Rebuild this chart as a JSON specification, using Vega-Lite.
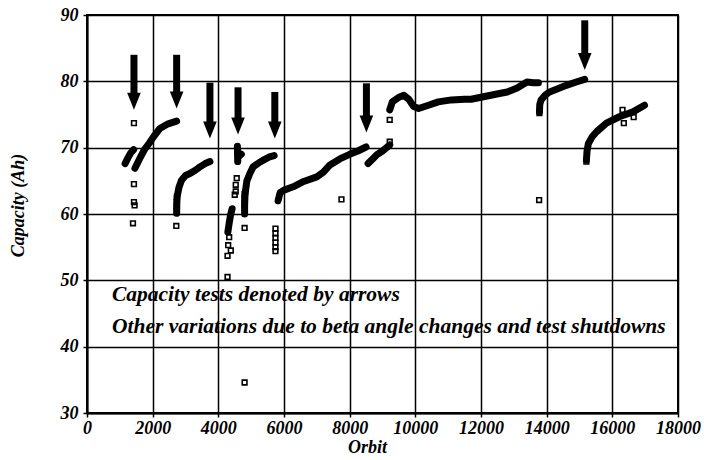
{
  "$schema": "https://vega.github.io/schema/vega-lite/v6.json",
  "width": 591,
  "height": 398,
  "autosize": "none",
  "padding": {"left": 87, "top": 15, "right": 26, "bottom": 47},
  "background": "white",
  "config": {
    "view": {"stroke": "black", "strokeWidth": 2},
    "axis": {
      "labelFont": "Liberation Serif", "labelFontStyle": "italic", "labelFontWeight": "bold", "labelFontSize": 18, "labelColor": "black", "labelOverlap": false, "labelBound": false, "labelFlush": false,
      "titleFont": "Liberation Serif", "titleFontStyle": "italic", "titleFontWeight": "bold", "titleFontSize": 18, "titleColor": "black",
      "gridColor": "black", "gridWidth": 1.5, "gridOpacity": 1,
      "domainColor": "black", "domainWidth": 2, "tickColor": "black", "tickSize": 4, "tickWidth": 1.5
    }
  },
  "datasets": {
    "curves": [
      {"seg": "A", "orbit": 1160, "cap": 67.6}, {"seg": "A", "orbit": 1250, "cap": 68.5}, {"seg": "A", "orbit": 1330, "cap": 69.2}, {"seg": "A", "orbit": 1420, "cap": 69.7},
      {"seg": "B", "orbit": 1460, "cap": 66.9}, {"seg": "B", "orbit": 1600, "cap": 68.3}, {"seg": "B", "orbit": 1750, "cap": 69.7}, {"seg": "B", "orbit": 1900, "cap": 70.7}, {"seg": "B", "orbit": 2020, "cap": 71.6}, {"seg": "B", "orbit": 2220, "cap": 72.9}, {"seg": "B", "orbit": 2470, "cap": 73.6}, {"seg": "B", "orbit": 2730, "cap": 74.0},
      {"seg": "C", "orbit": 2730, "cap": 60.1}, {"seg": "C", "orbit": 2735, "cap": 61.5}, {"seg": "C", "orbit": 2745, "cap": 62.6}, {"seg": "C", "orbit": 2800, "cap": 64.0}, {"seg": "C", "orbit": 2880, "cap": 65.1}, {"seg": "C", "orbit": 3000, "cap": 65.8}, {"seg": "C", "orbit": 3135, "cap": 66.1}, {"seg": "C", "orbit": 3300, "cap": 66.6}, {"seg": "C", "orbit": 3440, "cap": 67.1}, {"seg": "C", "orbit": 3600, "cap": 67.6}, {"seg": "C", "orbit": 3744, "cap": 67.9},
      {"seg": "D1", "orbit": 4580, "cap": 70.2}, {"seg": "D1", "orbit": 4600, "cap": 69.3}, {"seg": "D1", "orbit": 4700, "cap": 69.0}, {"seg": "D1", "orbit": 4600, "cap": 68.6}, {"seg": "D1", "orbit": 4590, "cap": 67.9},
      {"seg": "D2", "orbit": 4420, "cap": 60.8}, {"seg": "D2", "orbit": 4370, "cap": 59.8}, {"seg": "D2", "orbit": 4330, "cap": 58.6}, {"seg": "D2", "orbit": 4290, "cap": 57.3},
      {"seg": "E", "orbit": 4800, "cap": 60.0}, {"seg": "E", "orbit": 4800, "cap": 61.3}, {"seg": "E", "orbit": 4810, "cap": 62.6}, {"seg": "E", "orbit": 4830, "cap": 63.6}, {"seg": "E", "orbit": 4870, "cap": 65.0}, {"seg": "E", "orbit": 4960, "cap": 66.1}, {"seg": "E", "orbit": 5060, "cap": 67.1}, {"seg": "E", "orbit": 5260, "cap": 67.8}, {"seg": "E", "orbit": 5400, "cap": 68.2}, {"seg": "E", "orbit": 5560, "cap": 68.6}, {"seg": "E", "orbit": 5700, "cap": 68.8},
      {"seg": "G", "orbit": 5820, "cap": 62.0}, {"seg": "G", "orbit": 5880, "cap": 63.2}, {"seg": "G", "orbit": 6000, "cap": 63.6}, {"seg": "G", "orbit": 6280, "cap": 64.1}, {"seg": "G", "orbit": 6600, "cap": 64.9}, {"seg": "G", "orbit": 7000, "cap": 65.6}, {"seg": "G", "orbit": 7200, "cap": 66.3}, {"seg": "G", "orbit": 7400, "cap": 67.4}, {"seg": "G", "orbit": 7700, "cap": 68.3}, {"seg": "G", "orbit": 8000, "cap": 69.0}, {"seg": "G", "orbit": 8250, "cap": 69.5}, {"seg": "G", "orbit": 8500, "cap": 70.1},
      {"seg": "H", "orbit": 8560, "cap": 67.6}, {"seg": "H", "orbit": 8700, "cap": 68.3}, {"seg": "H", "orbit": 8820, "cap": 68.9}, {"seg": "H", "orbit": 9000, "cap": 69.5}, {"seg": "H", "orbit": 9220, "cap": 70.4},
      {"seg": "I", "orbit": 9220, "cap": 75.7}, {"seg": "I", "orbit": 9300, "cap": 76.9}, {"seg": "I", "orbit": 9500, "cap": 77.6}, {"seg": "I", "orbit": 9650, "cap": 77.9}, {"seg": "I", "orbit": 9800, "cap": 77.3}, {"seg": "I", "orbit": 9950, "cap": 76.2}, {"seg": "I", "orbit": 10100, "cap": 75.9}, {"seg": "I", "orbit": 10400, "cap": 76.4}, {"seg": "I", "orbit": 10700, "cap": 76.9}, {"seg": "I", "orbit": 11100, "cap": 77.2}, {"seg": "I", "orbit": 11500, "cap": 77.3}, {"seg": "I", "orbit": 11700, "cap": 77.3}, {"seg": "I", "orbit": 12000, "cap": 77.6}, {"seg": "I", "orbit": 12300, "cap": 77.9}, {"seg": "I", "orbit": 12600, "cap": 78.2}, {"seg": "I", "orbit": 12800, "cap": 78.4}, {"seg": "I", "orbit": 13100, "cap": 79.0}, {"seg": "I", "orbit": 13400, "cap": 79.9}, {"seg": "I", "orbit": 13600, "cap": 79.8}, {"seg": "I", "orbit": 13750, "cap": 79.8},
      {"seg": "J", "orbit": 13780, "cap": 75.4}, {"seg": "J", "orbit": 13790, "cap": 76.5}, {"seg": "J", "orbit": 13830, "cap": 77.2}, {"seg": "J", "orbit": 13950, "cap": 77.9}, {"seg": "J", "orbit": 14090, "cap": 78.4}, {"seg": "J", "orbit": 14300, "cap": 78.8}, {"seg": "J", "orbit": 14600, "cap": 79.4}, {"seg": "J", "orbit": 14900, "cap": 79.9}, {"seg": "J", "orbit": 15160, "cap": 80.3},
      {"seg": "K", "orbit": 15210, "cap": 68.1}, {"seg": "K", "orbit": 15230, "cap": 69.5}, {"seg": "K", "orbit": 15270, "cap": 70.6}, {"seg": "K", "orbit": 15380, "cap": 71.6}, {"seg": "K", "orbit": 15520, "cap": 72.4}, {"seg": "K", "orbit": 15820, "cap": 73.7}, {"seg": "K", "orbit": 16230, "cap": 74.7}, {"seg": "K", "orbit": 16630, "cap": 75.4}, {"seg": "K", "orbit": 16980, "cap": 76.4}
    ],
    "points": [
      {"orbit": 1430, "cap": 73.7}, {"orbit": 1430, "cap": 64.5}, {"orbit": 1430, "cap": 61.8}, {"orbit": 1450, "cap": 61.3}, {"orbit": 1400, "cap": 58.6},
      {"orbit": 2730, "cap": 61.0}, {"orbit": 2735, "cap": 61.8}, {"orbit": 2740, "cap": 62.6}, {"orbit": 2720, "cap": 58.2},
      {"orbit": 4560, "cap": 65.4}, {"orbit": 4530, "cap": 64.4}, {"orbit": 4530, "cap": 63.4}, {"orbit": 4500, "cap": 62.9},
      {"orbit": 4330, "cap": 56.5}, {"orbit": 4300, "cap": 55.3}, {"orbit": 4380, "cap": 54.5}, {"orbit": 4280, "cap": 53.7}, {"orbit": 4280, "cap": 50.5},
      {"orbit": 4800, "cap": 57.9}, {"orbit": 4800, "cap": 34.6},
      {"orbit": 4800, "cap": 61.5}, {"orbit": 4800, "cap": 62.3}, {"orbit": 4800, "cap": 63.0},
      {"orbit": 5740, "cap": 57.8}, {"orbit": 5740, "cap": 57.1}, {"orbit": 5740, "cap": 56.4}, {"orbit": 5740, "cap": 55.7}, {"orbit": 5740, "cap": 55.0}, {"orbit": 5740, "cap": 54.4},
      {"orbit": 7750, "cap": 62.2}, {"orbit": 9220, "cap": 70.9}, {"orbit": 9220, "cap": 74.2}, {"orbit": 13770, "cap": 62.1}, {"orbit": 13780, "cap": 75.2},
      {"orbit": 15210, "cap": 67.9}, {"orbit": 16310, "cap": 75.7}, {"orbit": 16350, "cap": 73.7}, {"orbit": 16650, "cap": 74.6}
    ],
    "arrows": [
      {"orbit": 1430, "top": 84.0, "tip": 75.7},
      {"orbit": 2730, "top": 84.0, "tip": 75.9},
      {"orbit": 3744, "top": 79.8, "tip": 71.4},
      {"orbit": 4600, "top": 79.1, "tip": 72.0},
      {"orbit": 5720, "top": 78.4, "tip": 71.4},
      {"orbit": 8510, "top": 79.7, "tip": 72.3},
      {"orbit": 15160, "top": 89.2, "tip": 81.7}
    ],
    "notes": [
      {"orbit": 761, "cap": 47.8, "text": "Capacity tests denoted by arrows"},
      {"orbit": 761, "cap": 43.0, "text": "Other variations due to beta angle changes and test shutdowns"}
    ]
  },
  "encoding": {
    "x": {"field": "orbit", "type": "quantitative", "scale": {"domain": [0, 18000], "nice": false},
      "axis": {"values": [0, 2000, 4000, 6000, 8000, 10000, 12000, 14000, 16000, 18000], "format": "d", "title": "Orbit", "labelPadding": 2, "titleX": 280, "titleY": 34, "titleBaseline": "middle"}},
    "y": {"field": "cap", "type": "quantitative", "scale": {"domain": [30, 90], "nice": false, "zero": false},
      "axis": {"values": [30, 40, 50, 60, 70, 80, 90], "title": "Capacity (Ah)", "labelPadding": 5, "titleX": -69, "titleY": 190, "titleBaseline": "middle"}}
  },
  "layer": [
    {"data": {"name": "curves"}, "mark": {"type": "line", "color": "black", "strokeWidth": 7, "strokeCap": "round", "strokeJoin": "round"},
      "encoding": {"detail": {"field": "seg"}}},
    {"data": {"name": "points"}, "mark": {"type": "point", "shape": "square", "filled": false, "color": "black", "size": 22, "strokeWidth": 1.6, "opacity": 1}},
    {"data": {"name": "arrows"}, "mark": {"type": "rule", "color": "black", "strokeWidth": 7, "y2Offset": -10},
      "encoding": {"y": {"field": "top", "type": "quantitative"}, "y2": {"field": "tip"}}},
    {"data": {"name": "arrows"}, "mark": {"type": "point", "shape": "M-0.8,-1L0.8,-1L0,1Z", "filled": true, "color": "black", "size": 289, "opacity": 1, "yOffset": -8.5},
      "encoding": {"y": {"field": "tip", "type": "quantitative"}}},
    {"data": {"name": "notes"}, "mark": {"type": "text", "align": "left", "baseline": "middle", "font": "Liberation Serif", "fontStyle": "italic", "fontWeight": "bold", "fontSize": 21.5, "color": "black"},
      "encoding": {"text": {"field": "text"}}}
  ]
}
